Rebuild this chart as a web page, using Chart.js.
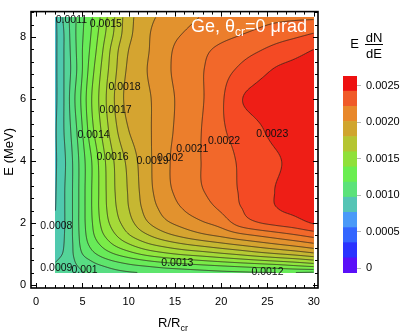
<!DOCTYPE html>
<html>
<head>
<meta charset="utf-8">
<script src="https://cdn.jsdelivr.net/npm/chart.js@4.4.1/dist/chart.umd.min.js"></script>
<style>
  html, body { margin: 0; padding: 0; background: #ffffff; }
  #stage { position: relative; width: 416px; height: 333px; overflow: hidden; background:#fff; }
  #plot { position: absolute; left: 0; top: 0; }
  #legendBar { position: absolute; left: 330px; top: 60px; }
</style>
</head>
<body>
<div id="stage">
  <canvas id="plot" width="416" height="333"></canvas>
  <canvas id="legendBar" width="86" height="230"></canvas>
</div>
<script>
// ---------------- data ----------------
const rGrid = [2, 3, 4, 5, 6, 7, 8, 10, 12, 14, 16, 18, 20, 22, 24, 26, 28, 30];
const eGrid = [0.4, 0.6, 0.8, 1.0, 1.3, 1.6, 2.0, 2.5, 3.0, 4.0, 5.0, 6.0, 7.0, 7.6, 8.1, 8.65];

const atE0_40 = [0.00093, 0.00095, 0.00097, 0.000995, 0.00102, 0.00104, 0.00106, 0.00109, 0.00111, 0.00113, 0.001145, 0.00116, 0.001175, 0.001185, 0.001195, 0.0012, 0.0012, 0.00119];
const atE0_60 = [0.00091, 0.00094, 0.00098, 0.00102, 0.00106, 0.00109, 0.00112, 0.00117, 0.0012, 0.00123, 0.00125, 0.00127, 0.00129, 0.00131, 0.00133, 0.00135, 0.00138, 0.00141];
const atE0_80 = [0.00089, 0.000925, 0.00099, 0.00106, 0.00111, 0.00116, 0.0012, 0.00126, 0.00131, 0.00135, 0.00138, 0.00141, 0.00144, 0.00147, 0.0015, 0.00153, 0.00156, 0.0016];
const atE1_00 = [0.00087, 0.00091, 0.001, 0.0011, 0.00117, 0.00123, 0.00128, 0.00136, 0.00143, 0.00148, 0.00152, 0.00155, 0.001585, 0.00162, 0.00166, 0.001695, 0.00173, 0.001775];
const atE1_30 = [0.00084, 0.0009, 0.001005, 0.001135, 0.00123, 0.00131, 0.00138, 0.00149, 0.00158, 0.00164, 0.00169, 0.00173, 0.00177, 0.00181, 0.00185, 0.00189, 0.00193, 0.001975];
const atE1_60 = [0.00082, 0.000895, 0.00101, 0.00115, 0.00127, 0.00137, 0.00145, 0.00159, 0.00169, 0.00177, 0.00183, 0.00188, 0.00192, 0.00197, 0.00201, 0.00205, 0.00209, 0.002135];
const atE2_00 = [0.0008, 0.00089, 0.00101, 0.00116, 0.00129, 0.00141, 0.00151, 0.00166, 0.00179, 0.00188, 0.00194, 0.00199, 0.00204, 0.00214, 0.002195, 0.00223, 0.00226, 0.00231];
const atE2_50 = [0.00079, 0.00089, 0.00101, 0.00116, 0.0013, 0.00143, 0.00154, 0.0017, 0.00184, 0.00194, 0.00201, 0.00206, 0.00212, 0.002195, 0.00224, 0.0023, 0.00232, 0.00233];
const atE3_00 = [0.000785, 0.00089, 0.00101, 0.00116, 0.0013, 0.00143, 0.00155, 0.00171, 0.00186, 0.00197, 0.00204, 0.002095, 0.00215, 0.002205, 0.00225, 0.002305, 0.00233, 0.00234];
const atE4_00 = [0.00078, 0.00088, 0.00101, 0.00116, 0.0013, 0.00144, 0.00156, 0.00173, 0.00187, 0.00198, 0.00205, 0.002105, 0.00216, 0.00221, 0.00225, 0.00229, 0.002325, 0.00234];
const atE5_00 = [0.00078, 0.0009, 0.00104, 0.0012, 0.00137, 0.0015, 0.00162, 0.0018, 0.00188, 0.00197, 0.00204, 0.002105, 0.002185, 0.002235, 0.002285, 0.00233, 0.002345, 0.00235];
const atE6_00 = [0.00077, 0.0009, 0.00107, 0.00123, 0.0014, 0.00153, 0.00165, 0.00184, 0.001885, 0.001965, 0.002035, 0.002095, 0.002185, 0.00229, 0.00233, 0.00235, 0.00236, 0.00236];
const atE7_00 = [0.00077, 0.0009, 0.00104, 0.0012, 0.00136, 0.0015, 0.00162, 0.00182, 0.0019, 0.00198, 0.002045, 0.002095, 0.002155, 0.00221, 0.00226, 0.002305, 0.002325, 0.002335];
const atE7_60 = [0.00077, 0.0009, 0.00105, 0.0012, 0.00133, 0.00147, 0.0016, 0.0018, 0.00189, 0.001975, 0.002035, 0.00208, 0.00212, 0.002155, 0.00219, 0.00223, 0.002265, 0.0023];
const atE8_10 = [0.00077, 0.0009, 0.00106, 0.00119, 0.00131, 0.00144, 0.00156, 0.00177, 0.001885, 0.00196, 0.002005, 0.00204, 0.00207, 0.002095, 0.00212, 0.00215, 0.002175, 0.002205];
const atE8_65 = [0.00077, 0.00092, 0.00106, 0.00118, 0.00129, 0.00141, 0.00154, 0.00176, 0.00187, 0.001925, 0.00197, 0.002005, 0.00203, 0.00205, 0.002065, 0.002075, 0.00208, 0.00208];
const surfaceRows = [atE0_40, atE0_60, atE0_80, atE1_00, atE1_30, atE1_60, atE2_00, atE2_50, atE3_00,
                     atE4_00, atE5_00, atE6_00, atE7_00, atE7_60, atE8_10, atE8_65];

const contourLevels = [0.0008, 0.0009, 0.001, 0.0011, 0.0012, 0.0013, 0.0014, 0.0015, 0.0016,
                       0.0017, 0.0018, 0.0019, 0.002, 0.0021, 0.0022, 0.0023];
const labelTexts = ['0.0011', '0.0015', '0.0018', '0.0017', '0.0014', '0.0016', '0.0019', '0.002',
                    '0.0021', '0.0022', '0.0023', '0.0008', '0.0009', '0.001', '0.0013', '0.0012'];
const labelR = [3.81, 7.53, 9.55, 8.58, 6.2, 8.25, 12.57, 14.49, 16.88, 20.3, 25.51, 2.18, 2.18, 5.23, 15.26, 25.0];
const labelE = [8.53, 8.41, 6.38, 5.64, 4.84, 4.13, 3.99, 4.08, 4.37, 4.63, 4.88, 1.89, 0.54, 0.49, 0.70, 0.41];

const xTicks = [0, 5, 10, 15, 20, 25, 30];
const yTicks = [0, 2, 4, 6, 8];
const legendTicks = [0, 0.0005, 0.001, 0.0015, 0.002, 0.0025];
const legendBandEdges = [-0.000066, 0.000141, 0.000349, 0.000556, 0.000764, 0.000971, 0.001178,
                         0.001386, 0.001593, 0.001801, 0.002008, 0.002215, 0.002423, 0.00263];

// ---------------- styles ----------------
const FONT = "'Liberation Sans', Arial, Helvetica, sans-serif";
const bandBase = 0.0007, bandStep = 0.0001;
const bandPalette = ['#49bcc6', '#4fc9ae', '#54d498', '#58dd82', '#5ee56c', '#68eb58', '#7aec48', '#90e63e',
                     '#a4da38', '#b6ca34', '#c6b732', '#d5a430', '#e2922e', '#ec7e2c', '#f2682a', '#f44a24',
                     '#ee1e16', '#ee1111'];
const legendPalette = ['#5a10f8', '#2a33ff', '#3366ff', '#4a9af8', '#55c4b5', '#5ce27a', '#6aee50',
                       '#90e03a', '#b5c532', '#d0a52e', '#e8882a', '#f05a28', '#ee1111'];

Chart.defaults.font.family = FONT;
Chart.defaults.color = '#000';

function hexRGB(h) { return [parseInt(h.slice(1, 3), 16), parseInt(h.slice(3, 5), 16), parseInt(h.slice(5, 7), 16)]; }
const bandRGB = bandPalette.map(hexRGB);

function slopes(xs, ys) {
  const n = xs.length, m = new Array(n);
  for (let i = 0; i < n; i++) {
    if (i === 0) m[i] = (ys[1] - ys[0]) / (xs[1] - xs[0]);
    else if (i === n - 1) m[i] = (ys[n - 1] - ys[n - 2]) / (xs[n - 1] - xs[n - 2]);
    else {
      const h0 = xs[i] - xs[i - 1], h1 = xs[i + 1] - xs[i];
      const d0 = (ys[i] - ys[i - 1]) / h0, d1 = (ys[i + 1] - ys[i]) / h1;
      m[i] = (d0 * h1 + d1 * h0) / (h0 + h1);
    }
  }
  return m;
}
function herm(xs, ys, m, x) {
  const n = xs.length;
  if (x <= xs[0]) return ys[0];
  if (x >= xs[n - 1]) return ys[n - 1];
  let i = 0;
  while (i < n - 2 && x > xs[i + 1]) i++;
  const h = xs[i + 1] - xs[i], t = (x - xs[i]) / h, t2 = t * t, t3 = t2 * t;
  return (2 * t3 - 3 * t2 + 1) * ys[i] + (t3 - 2 * t2 + t) * h * m[i] + (-2 * t3 + 3 * t2) * ys[i + 1] + (t3 - t2) * h * m[i + 1];
}

const surfacePlugin = {
  id: 'surface',
  beforeDatasetsDraw(chart) {
    const { ctx, scales: { x, y } } = chart;
    const px0 = Math.round(x.getPixelForValue(rGrid[0]));
    const px1 = Math.round(x.getPixelForValue(rGrid[rGrid.length - 1]));
    const py0 = Math.round(y.getPixelForValue(eGrid[eGrid.length - 1]));
    const py1 = Math.round(y.getPixelForValue(eGrid[0]));
    const W = px1 - px0, H = py1 - py0;
    const nE = eGrid.length;
    const mR = surfaceRows.map(row => slopes(rGrid, row));
    const field = new Float64Array(W * H);
    const col = new Array(nE);
    for (let i = 0; i < W; i++) {
      const R = x.getValueForPixel(px0 + i + 0.5);
      for (let j = 0; j < nE; j++) col[j] = herm(rGrid, surfaceRows[j], mR[j], R);
      const mE = slopes(eGrid, col);
      for (let k = 0; k < H; k++) {
        const E = y.getValueForPixel(py0 + k + 0.5);
        field[k * W + i] = herm(eGrid, col, mE, E);
      }
    }
    const off = document.createElement('canvas');
    off.width = W; off.height = H;
    const octx = off.getContext('2d');
    const img = octx.createImageData(W, H);
    for (let p = 0; p < W * H; p++) {
      let b = Math.floor((field[p] - bandBase) / bandStep + 1e-9);
      b = Math.max(0, Math.min(bandRGB.length - 1, b));
      const c = bandRGB[b];
      img.data[4 * p] = c[0]; img.data[4 * p + 1] = c[1]; img.data[4 * p + 2] = c[2]; img.data[4 * p + 3] = 255;
    }
    octx.putImageData(img, 0, 0);
    ctx.drawImage(off, px0, py0);

    ctx.save();
    ctx.beginPath();
    ctx.rect(px0, py0, W, H);
    ctx.clip();
    ctx.beginPath();
    for (const L of contourLevels) {
      for (let k = 0; k < H - 1; k++) {
        for (let i = 0; i < W - 1; i++) {
          const a = field[k * W + i], b = field[k * W + i + 1], c = field[(k + 1) * W + i + 1], d = field[(k + 1) * W + i];
          const sa = a >= L, sb = b >= L, sc = c >= L, sd = d >= L;
          if (sa === sb && sb === sc && sc === sd) continue;
          const pts = [];
          const X = px0 + i + 0.5, Y = py0 + k + 0.5;
          if (sa !== sb) pts.push([X + (L - a) / (b - a), Y]);
          if (sb !== sc) pts.push([X + 1, Y + (L - b) / (c - b)]);
          if (sd !== sc) pts.push([X + (L - d) / (c - d), Y + 1]);
          if (sa !== sd) pts.push([X, Y + (L - a) / (d - a)]);
          for (let q = 0; q + 1 < pts.length; q += 2) {
            ctx.moveTo(pts[q][0], pts[q][1]);
            ctx.lineTo(pts[q + 1][0], pts[q + 1][1]);
          }
        }
      }
    }
    ctx.strokeStyle = 'rgba(40,30,25,0.85)';
    ctx.lineWidth = 0.9;
    ctx.stroke();
    ctx.restore();

    ctx.save();
    ctx.font = '10.5px ' + FONT;
    ctx.fillStyle = '#111';
    ctx.textAlign = 'center';
    ctx.textBaseline = 'middle';
    labelTexts.forEach((t, i) => {
      ctx.fillText(t, x.getPixelForValue(labelR[i]), y.getPixelForValue(labelE[i]));
    });
    let tx = 191, ty = 32;
    ctx.textAlign = 'left';
    ctx.textBaseline = 'alphabetic';
    ctx.fillStyle = '#ffffff';
    ctx.font = '18px ' + FONT;
    ctx.fillText('Ge, θ', tx, ty);
    tx += ctx.measureText('Ge, θ').width;
    ctx.font = '12px ' + FONT;
    ctx.fillText('cr', tx, ty + 4);
    tx += ctx.measureText('cr').width;
    ctx.font = '18px ' + FONT;
    ctx.fillText('=0 μrad', tx, ty);
    ctx.restore();
  },
  afterDraw(chart) {
    const { ctx, chartArea: ca, scales: { x, y } } = chart;
    ctx.save();
    ctx.strokeStyle = '#000';
    ctx.lineWidth = 1;
    ctx.beginPath();
    for (let v = 0; v <= 30; v += 1) {
      const p = Math.round(x.getPixelForValue(v)) + 0.5;
      const len = (v % 5 === 0) ? 5 : 3;
      ctx.moveTo(p, ca.bottom); ctx.lineTo(p, ca.bottom - len);
      ctx.moveTo(p, ca.top); ctx.lineTo(p, ca.top + len);
    }
    for (let k = 0; k <= 22; k++) {
      const v = k * 0.4;
      const p = Math.round(y.getPixelForValue(v)) + 0.5;
      const len = (k % 5 === 0) ? 5 : 3;
      ctx.moveTo(ca.left, p); ctx.lineTo(ca.left + len, p);
      ctx.moveTo(ca.right, p); ctx.lineTo(ca.right - len, p);
    }
    ctx.stroke();
    ctx.lineWidth = 1.6;
    ctx.strokeRect(ca.left, ca.top, ca.right - ca.left, ca.bottom - ca.top);

    ctx.fillStyle = '#000';
    ctx.font = '13px ' + FONT;
    ctx.save();
    ctx.translate(13, (ca.top + ca.bottom) / 2 + 2);
    ctx.rotate(-Math.PI / 2);
    ctx.textAlign = 'center';
    ctx.textBaseline = 'alphabetic';
    ctx.fillText('E (MeV)', 0, 0);
    ctx.restore();
    ctx.textAlign = 'left';
    ctx.textBaseline = 'alphabetic';
    let tx = 158;
    ctx.fillText('R/R', tx, 327);
    tx += ctx.measureText('R/R').width;
    ctx.font = '9px ' + FONT;
    ctx.fillText('cr', tx, 331);

    ctx.font = '13px ' + FONT;
    ctx.textAlign = 'center';
    ctx.fillText('E', 354.5, 47.5);
    ctx.fillText('dN', 374, 41.5);
    ctx.fillText('dE', 374, 57.5);
    ctx.lineWidth = 1;
    ctx.beginPath();
    ctx.moveTo(365, 44.5); ctx.lineTo(383, 44.5);
    ctx.stroke();
    ctx.restore();
  }
};

new Chart(document.getElementById('plot'), {
  type: 'scatter',
  data: { datasets: [{ data: [], pointRadius: 0 }] },
  options: {
    responsive: false, animation: false, devicePixelRatio: 1,
    layout: { padding: { left: 0, top: 1, right: 98, bottom: 0 } },
    plugins: { legend: { display: false }, tooltip: { enabled: false } },
    scales: {
      x: {
        type: 'linear', min: -0.56, max: 30.46,
        afterBuildTicks: s => { s.ticks = xTicks.map(v => ({ value: v })); },
        afterFit: s => { s.height = 45; },
        grid: { display: false, drawTicks: false }, border: { display: false },
        ticks: { padding: 7, font: { size: 11 }, color: '#000', maxRotation: 0, autoSkip: false }
      },
      y: {
        type: 'linear', min: -0.1, max: 8.82,
        afterBuildTicks: s => { s.ticks = yTicks.map(v => ({ value: v })); },
        afterFit: s => { s.width = 31; },
        grid: { display: false, drawTicks: false }, border: { display: false },
        ticks: { padding: 5, font: { size: 11 }, color: '#000', autoSkip: false }
      }
    }
  },
  plugins: [surfacePlugin]
});

new Chart(document.getElementById('legendBar'), {
  type: 'bar',
  data: {
    labels: [''],
    datasets: legendPalette.map((c, i) => ({
      data: [[legendBandEdges[i], legendBandEdges[i + 1]]],
      backgroundColor: c, borderWidth: 0, grouped: false,
      barPercentage: 1, categoryPercentage: 1
    }))
  },
  options: {
    responsive: false, animation: false, devicePixelRatio: 1,
    layout: { padding: { left: 13, top: 16, bottom: 17, right: 0 } },
    plugins: { legend: { display: false }, tooltip: { enabled: false } },
    scales: {
      x: { display: false },
      y: {
        position: 'right', min: legendBandEdges[0], max: legendBandEdges[legendBandEdges.length - 1],
        afterBuildTicks: s => { s.ticks = legendTicks.map(v => ({ value: v })); },
        afterFit: s => { s.width = 59; },
        grid: { drawOnChartArea: false, drawTicks: true, tickLength: 4, color: '#b8b8b8' },
        border: { display: false },
        ticks: { padding: 5, font: { size: 11 }, color: '#000', autoSkip: false,
                 callback: v => (v === 0 ? '0' : Number(v).toFixed(4)) }
      }
    }
  }
});
</script>
</body>
</html>
